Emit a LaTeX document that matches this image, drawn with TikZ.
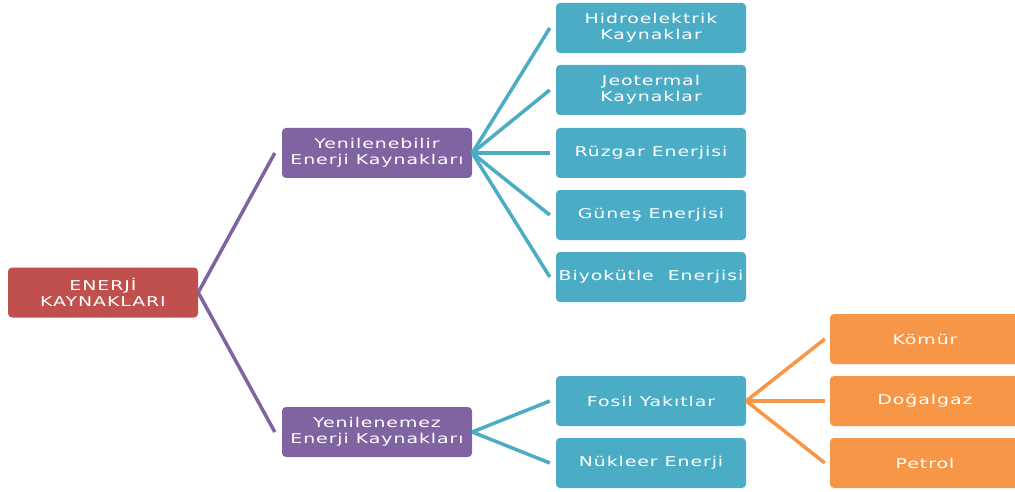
\documentclass[tikz,border=0pt]{standalone}
\usepackage{fontspec}
\setmainfont{DejaVu Sans}[FakeStretch=1.4, LetterSpace=7]
\definecolor{cred}{HTML}{C0504D}
\definecolor{cpurple}{HTML}{8064A2}
\definecolor{cblue}{HTML}{4BACC6}
\definecolor{corange}{HTML}{F79646}
\begin{document}
\begin{tikzpicture}[x=1pt,y=-1pt,
  box/.style={rounded corners=4pt, minimum width=190pt, minimum height=50pt, inner sep=0pt,
    text=white, align=center, font=\fontsize{13.5}{16}\selectfont},
  rootbox/.style={box, fill=cred},
  pbox/.style={box, fill=cpurple},
  bbox/.style={box, fill=cblue},
  obox/.style={box, fill=corange},
  link/.style={line width=3.5pt},
]
\clip (0,0) rectangle (1015,492);
\fill[white] (0,0) rectangle (1015,492);
\node[rootbox] (root) at (103,292.5) {ENERJİ\\KAYNAKLARI};
\node[pbox] (ren) at (377,153) {Yenilenebilir\\Enerji Kaynakları};
\node[pbox] (nren) at (377,432) {Yenilenemez\\Enerji Kaynakları};
\node[bbox] (hid) at (651,28) {Hidroelektrik\\Kaynaklar};
\node[bbox] (jeo) at (651,90) {Jeotermal\\Kaynaklar};
\node[bbox] (ruz) at (651,153) {Rüzgar Enerjisi};
\node[bbox] (gun) at (651,215) {Güneş Enerjisi};
\node[bbox] (biy) at (651,277) {Biyokütle\ \ Enerjisi};
\node[bbox] (fos) at (651,401) {Fosil Yakıtlar};
\node[bbox] (nuk) at (651,463) {Nükleer Enerji};
\node[obox] (kom) at (925,339) {Kömür};
\node[obox] (dog) at (925,401) {Doğalgaz};
\node[obox] (pet) at (925,463) {Petrol};
\foreach \t in {ren,nren}
  \draw[link, cpurple] (root.east) -- ([xshift=-7pt]\t.west);
\foreach \t in {hid,jeo,ruz,gun,biy}
  \draw[link, cblue] (ren.east) -- ([xshift=-6pt]\t.west);
\foreach \t in {fos,nuk}
  \draw[link, cblue] (nren.east) -- ([xshift=-6pt]\t.west);
\foreach \t in {kom,dog,pet}
  \draw[link, corange] (fos.east) -- ([xshift=-5pt]\t.west);
\end{tikzpicture}
\end{document}
